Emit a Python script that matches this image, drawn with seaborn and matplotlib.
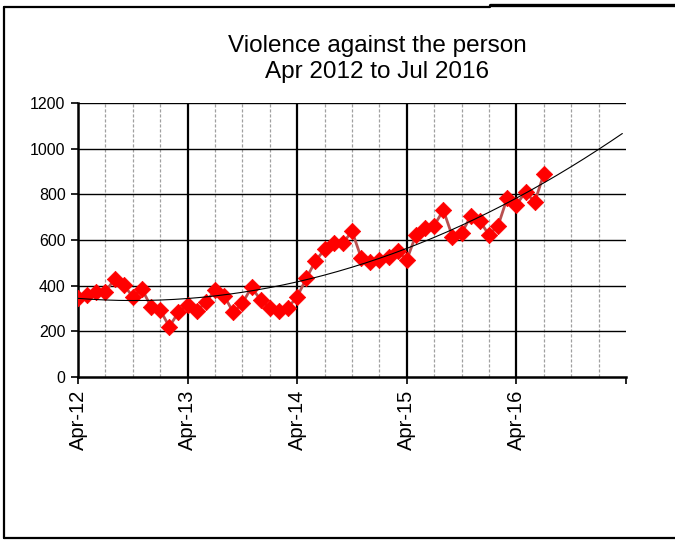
import numpy as np
import pandas as pd
import matplotlib
matplotlib.use("Agg")
import matplotlib.pyplot as plt
from matplotlib.lines import Line2D
from matplotlib.ticker import FixedLocator
import seaborn as sns

# ---- data ----
title_text = "Violence against the person\nApr 2012 to Jul 2016"
tick_labels = ["Apr-12", "Apr-13", "Apr-14", "Apr-15", "Apr-16", ""]
values = [347, 359, 374, 374, 428, 403, 352, 385, 308, 293, 220, 284,
          315, 289, 327, 381, 356, 283, 323, 393, 337, 304, 290, 304,
          352, 432, 508, 559, 585, 585, 639, 523, 505, 512, 527, 550,
          513, 622, 651, 663, 731, 615, 629, 705, 683, 622, 663, 785,
          753, 812, 765, 889]
y_ticks = [0, 200, 400, 600, 800, 1000, 1200]

month_idx = np.arange(len(values))
df = pd.DataFrame({"month": month_idx, "value": values})

# polynomial (order 2) trendline, forecast forward
coef = np.polyfit(month_idx, values, 2)
trend_x = np.linspace(0, 59.6, 200)
trend_df = pd.DataFrame({"month": trend_x, "value": np.polyval(coef, trend_x)})

sns.set_theme(style="white")
plt.rcParams["font.family"] = ["Liberation Sans", "DejaVu Sans"]

fig = plt.figure(figsize=(6.75, 5.4), dpi=100)
ax = fig.add_axes([78 / 675, 1 - 377 / 540, (626 - 78) / 675, (377 - 103) / 540])

ax.set_xlim(0, 60)
ax.set_ylim(0, 1200)

# grid
ax.xaxis.set_major_locator(FixedLocator([0, 12, 24, 36, 48, 60]))
ax.set_yticks(y_ticks)
ax.grid(False)
for m in range(3, 60, 3):
    if m % 12 != 0:
        ax.axvline(m, color="#a0a0a0", lw=0.9, ls=(0, (2.5, 1.5)), zorder=0)
for m in [12, 24, 36, 48]:
    ax.axvline(m, color="black", lw=1.6, zorder=0.5)
for yv in y_ticks[1:]:
    ax.axhline(yv, color="black", lw=1.0, zorder=0.5)

sns.lineplot(data=df, x="month", y="value", ax=ax, color="#b85050", lw=2.0,
             zorder=2, legend=False)
sns.scatterplot(data=df, x="month", y="value", ax=ax, marker="D", s=70,
                color="#ff0000", edgecolor="#ff0000", linewidth=0.5, zorder=3,
                legend=False)
sns.lineplot(data=trend_df, x="month", y="value", ax=ax, color="black", lw=0.8,
             zorder=4, legend=False)

ax.set_xticklabels(tick_labels, rotation=90, fontsize=14.5)
ax.set_yticklabels([str(v) for v in y_ticks], fontsize=11.5)
ax.set_xlabel("")
ax.set_ylabel("")
ax.tick_params(axis="both", which="major", direction="out", length=5, width=1.2,
               color="black", pad=4, labelcolor="black", bottom=True, left=True)

for side in ["top", "right"]:
    ax.spines[side].set_visible(False)
for side in ["left", "bottom"]:
    ax.spines[side].set_color("black")
    ax.spines[side].set_linewidth(1.8)

fig.text(377 / 675, 1 - 59 / 540, title_text, ha="center", va="center",
         fontsize=17.5, linespacing=1.2, color="black")

# outer frame
lw = 1.6
fig.add_artist(Line2D([4 / 675, 4 / 675], [1 - 7 / 540, 1 - 538 / 540],
                      transform=fig.transFigure, color="black", lw=lw))
fig.add_artist(Line2D([4 / 675, 490 / 675], [1 - 7 / 540, 1 - 7 / 540],
                      transform=fig.transFigure, color="black", lw=lw))
fig.add_artist(Line2D([490 / 675, 1], [1 - 5 / 540, 1 - 5 / 540],
                      transform=fig.transFigure, color="black", lw=2.4))
fig.add_artist(Line2D([4 / 675, 1], [1 - 538 / 540, 1 - 538 / 540],
                      transform=fig.transFigure, color="black", lw=lw))

fig.savefig("out.png", dpi=100, facecolor="white")
